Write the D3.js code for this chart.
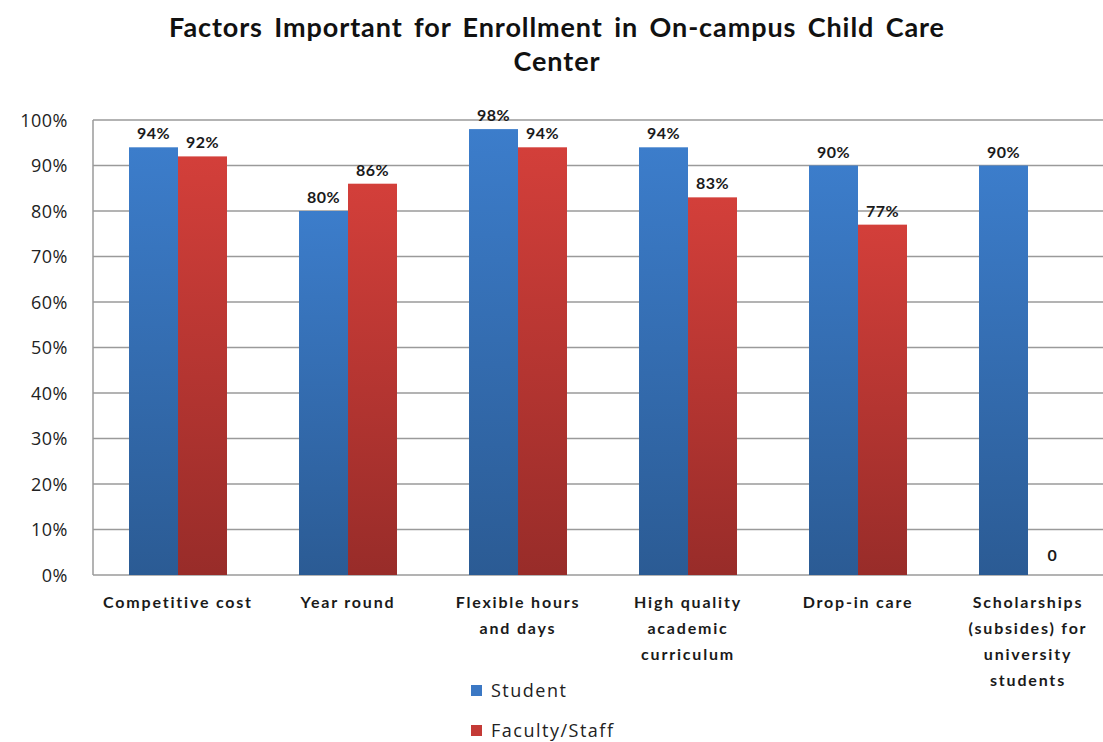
<!DOCTYPE html>
<html>
<head>
<meta charset="utf-8">
<script src="https://cdn.jsdelivr.net/npm/d3@7"></script>
<style>
  html, body { margin: 0; padding: 0; background: #fff; }
  svg { display: block; }
</style>
</head>
<body>
<svg id="chart" width="1103" height="742"></svg>
<script>
// Survey results: share of respondents rating each factor as important
const categories = [
  ["Competitive cost"],
  ["Year round"],
  ["Flexible hours", "and days"],
  ["High quality", "academic", "curriculum"],
  ["Drop-in care"],
  ["Scholarships", "(subsides) for", "university", "students"]
];
const seriesNames = ["Student", "Faculty/Staff"];
const studentValues = [94, 80, 98, 94, 90, 90];
const facultyValues = [92, 86, 94, 83, 77, 0];
const yTicks = [0, 10, 20, 30, 40, 50, 60, 70, 80, 90, 100];

const svg = d3.select("#chart");
const W = 1103, H = 742;
const margin = { left: 93, right: -10, top: 120, bottom: 167 };
const plotW = W - margin.left - margin.right;
const plotH = H - margin.top - margin.bottom;

const g = svg.append("g").attr("transform", `translate(${margin.left},${margin.top})`);

const x = d3.scaleBand().domain(d3.range(categories.length)).range([0, plotW]).paddingInner(0).paddingOuter(0);
const xs = d3.scaleBand().domain([0, 1]).range([36, x.bandwidth() - 36]);
const y = d3.scaleLinear().domain([0, 100]).range([plotH, 0]);

// Gradients for the bars
const defs = svg.append("defs");
function grad(id, top, bottom) {
  const lg = defs.append("linearGradient").attr("id", id)
    .attr("x1", 0).attr("y1", 0).attr("x2", 0).attr("y2", 1);
  lg.append("stop").attr("offset", "0%").attr("stop-color", top);
  lg.append("stop").attr("offset", "100%").attr("stop-color", bottom);
}
grad("gBlue", "#3c7dcb", "#2b5b94");
grad("gRed", "#d33f3a", "#982c29");
const fills = ["url(#gBlue)", "url(#gRed)"];
const legendFills = ["#3b78c4", "#c43a36"];

// Gridlines
g.append("g").selectAll("line").data(yTicks).join("line")
  .attr("x1", 0).attr("x2", plotW)
  .attr("y1", d => y(d)).attr("y2", d => y(d))
  .attr("stroke", "#9a9a9a").attr("stroke-width", 1.5);
// Left border of the plot area
g.append("line").attr("x1", 0).attr("x2", 0).attr("y1", 0).attr("y2", plotH)
  .attr("stroke", "#9a9a9a").attr("stroke-width", 1.5);

// Y axis labels
const yAxis = d3.axisLeft(y).tickValues(yTicks).tickFormat(d => d + "%").tickSize(0).tickPadding(25);
const ya = g.append("g").call(yAxis);
ya.select(".domain").remove();
ya.selectAll("text").attr("font-family", "Open Sans, sans-serif").attr("font-size", 18)
  .attr("letter-spacing", 0.5)
  .attr("fill", "#222").attr("dy", "0.34em");

// Bars
const rows = categories.map((c, i) => [studentValues[i], facultyValues[i]]);
const groups = g.append("g").selectAll("g").data(rows).join("g")
  .attr("transform", (d, i) => `translate(${x(i)},0)`);
groups.selectAll("rect").data(d => d).join("rect")
  .attr("x", (d, j) => xs(j)).attr("width", xs.bandwidth())
  .attr("y", d => y(d)).attr("height", d => plotH - y(d))
  .attr("fill", (d, j) => fills[j]);

// Value labels
groups.selectAll("text").data(d => d).join("text")
  .attr("x", (d, j) => xs(j) + xs.bandwidth() / 2)
  .attr("y", d => d === 0 ? y(d) - 14 : y(d) - 8)
  .attr("text-anchor", "middle")
  .attr("font-family", "Lato, sans-serif").attr("font-weight", "bold").attr("font-size", 16)
  .attr("letter-spacing", 0.5)
  .attr("fill", "#1a1a1a")
  .text(d => d === 0 ? "0" : d + "%");

// Category labels
const cat = g.append("g").selectAll("text").data(categories).join("text")
  .attr("x", (d, i) => x(i) + x.bandwidth() / 2)
  .attr("y", plotH + 33)
  .attr("text-anchor", "middle")
  .attr("font-family", "Lato, sans-serif").attr("font-weight", "bold").attr("font-size", 16)
  .attr("letter-spacing", 1.8)
  .attr("fill", "#1a1a1a");
cat.selectAll("tspan").data(d => d).join("tspan")
  .attr("x", function() { return d3.select(this.parentNode).attr("x"); })
  .attr("dy", (d, k) => k === 0 ? 0 : 26)
  .text(d => d);

// Title
svg.append("text").attr("x", 557).attr("y", 37).attr("text-anchor", "middle")
  .attr("font-family", "Lato, sans-serif").attr("font-weight", "bold").attr("font-size", 27)
  .attr("letter-spacing", 0.9).attr("word-spacing", 4)
  .attr("fill", "#111")
  .selectAll("tspan").data(["Factors Important for Enrollment in On-campus  Child Care", "Center"]).join("tspan")
  .attr("x", 557).attr("dy", (d, k) => k === 0 ? 0 : 34).text(d => d);

// Legend
const legend = svg.append("g").selectAll("g").data(seriesNames).join("g")
  .attr("transform", (d, i) => `translate(471,${691 + i * 40})`);
legend.append("rect").attr("x", 0).attr("y", -6).attr("width", 11).attr("height", 11)
  .attr("fill", (d, i) => legendFills[i]);
legend.append("text").attr("x", 20).attr("y", 0).attr("dy", "0.36em")
  .attr("font-family", "Open Sans, sans-serif").attr("font-size", 18).attr("letter-spacing", 1.5)
  .attr("fill", "#222")
  .text(d => d);
</script>
</body>
</html>
